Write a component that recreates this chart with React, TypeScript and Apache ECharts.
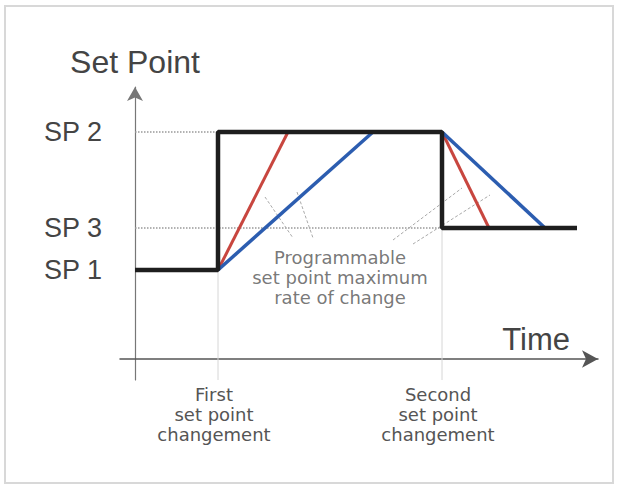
import React, { useEffect, useRef } from "react";
import * as echarts from "echarts";

// Time axis positions (arbitrary time units)
const firstChange = 8.3;
const secondChange = 30.7;
const endTime = 44.2;
const redRiseEnd = 15.3;
const blueRiseEnd = 23.8;
const redFallEnd = 35.4;
const blueFallEnd = 41.0;

// Set point levels
const SP1 = 8.9;
const SP3 = 13.1;
const SP2 = 22.7;

const spValues = [SP1, SP3, SP2];
const spLabels = ["SP 1", "SP 3", "SP 2"];

const changeTimes = [firstChange, secondChange];
const changeLabels = ["First\nset point\nchangement", "Second\nset point\nchangement"];

const setPointStep = [
  [0, SP1],
  [firstChange, SP1],
  [firstChange, SP2],
  [secondChange, SP2],
  [secondChange, SP3],
  [endTime, SP3],
];
const redRise = [
  [firstChange, SP1],
  [redRiseEnd, SP2],
];
const blueRise = [
  [firstChange, SP1],
  [blueRiseEnd, SP2],
];
const redFall = [
  [secondChange, SP2],
  [redFallEnd, SP3],
];
const blueFall = [
  [secondChange, SP2],
  [blueFallEnd, SP3],
];

const leaderLines = [
  [[13.0, 16.2], [15.8, 12.1]],
  [[16.2, 16.7], [17.8, 12.1]],
  [[25.8, 11.9], [32.7, 17.1]],
  [[27.8, 11.5], [35.5, 16.4]],
];

const annotationPoint = [20.5, 8.2];
const annotationText = "Programmable\nset point maximum\nrate of change";

const X_MIN = -1.5;
const X_MAX = 46.3;
const Y_MIN = -2.1;
const Y_MAX = 27.2;

export default function App() {
  const ref = useRef<HTMLDivElement>(null);

  useEffect(() => {
    if (!ref.current) return;
    const chart = echarts.init(ref.current, null, { renderer: "svg" });

    const lineSeries = (data: number[][], color: string, width: number, type: any = "solid", z = 2) => ({
      type: "line",
      data,
      symbol: "none",
      silent: true,
      z,
      lineStyle: { color, width, type },
    });

    const option: any = {
      animation: false,
      backgroundColor: "#ffffff",
      grid: { left: 120, top: 87, width: 478, height: 293, containLabel: false },
      xAxis: {
        type: "value",
        min: X_MIN,
        max: X_MAX,
        name: "Time",
        nameLocation: "end",
        nameGap: -28,
        nameTextStyle: {
          fontFamily: "Liberation Sans",
          fontSize: 31,
          color: "#444",
          align: "right",
          verticalAlign: "bottom",
          padding: [0, 0, 4, 0],
        },
        axisLine: {
          onZero: true,
          symbol: ["none", "arrow"],
          symbolSize: [13, 16],
          lineStyle: { color: "#555", width: 1.5 },
        },
        axisTick: { show: false },
        splitLine: { show: false },
        axisLabel: {
          customValues: changeTimes,
          formatter: (v: number) => {
            const i = changeTimes.findIndex((c) => Math.abs(c - v) < 0.01);
            return i >= 0 ? changeLabels[i] : "";
          },
          fontFamily: "DejaVu Sans",
          fontSize: 18,
          lineHeight: 20,
          color: "#555",
          margin: 4,
          padding: [0, 8, 0, 0],
        },
      },
      yAxis: {
        type: "value",
        min: Y_MIN,
        max: Y_MAX,
        name: "Set Point",
        nameLocation: "end",
        nameGap: 9,
        nameTextStyle: {
          fontFamily: "Liberation Sans",
          fontSize: 32,
          color: "#444",
          align: "center",
        },
        axisLine: {
          onZero: true,
          symbol: ["none", "arrow"],
          symbolSize: [12, 14],
          lineStyle: { color: "#777", width: 1.2 },
        },
        axisTick: { show: false },
        splitLine: { show: false },
        axisLabel: {
          customValues: spValues,
          formatter: (v: number) => {
            const i = spValues.findIndex((c) => Math.abs(c - v) < 0.01);
            return i >= 0 ? spLabels[i] : "";
          },
          fontFamily: "Liberation Sans",
          fontSize: 27,
          color: "#444",
          margin: 18,
        },
      },
      series: [
        // dotted reference levels
        lineSeries([[0, SP2], [firstChange, SP2]], "#999", 1.5, "dotted", 1),
        lineSeries([[0, SP3], [secondChange, SP3]], "#999", 1.5, "dotted", 1),
        // faint vertical guides
        lineSeries([[firstChange, Y_MIN], [firstChange, SP1]], "#d6d6d6", 1, "solid", 1),
        lineSeries([[secondChange, Y_MIN], [secondChange, SP3]], "#d6d6d6", 1, "solid", 1),
        // leader lines
        ...leaderLines.map((d) => lineSeries(d, "#aaa", 1, [3, 2], 1)),
        // ramps
        lineSeries(redRise, "#c8463f", 3),
        lineSeries(blueRise, "#2c5db0", 3.5),
        lineSeries(redFall, "#c8463f", 3),
        lineSeries(blueFall, "#2c5db0", 3.5),
        // set point step
        lineSeries(setPointStep, "#1e1e1e", 4.5, "solid", 3),
        {
          type: "scatter",
          data: [annotationPoint],
          symbolSize: 0,
          silent: true,
          label: {
            show: true,
            position: "inside",
            formatter: annotationText,
            fontFamily: "DejaVu Sans",
            fontSize: 18,
            lineHeight: 20,
            color: "#555",
            align: "center",
            verticalAlign: "middle",
          },
        },
      ],
      graphic: [
        {
          type: "rect",
          shape: { x: 5, y: 6, width: 608, height: 477 },
          style: { fill: "none", stroke: "#d8d8d8", lineWidth: 2 },
          silent: true,
          z: 0,
        },
      ],
    };

    chart.setOption(option);
    return () => chart.dispose();
  }, []);

  return (
    <div
      ref={ref}
      style={{ position: "fixed", left: 0, top: 0, width: 617, height: 486, background: "#fff" }}
    />
  );
}
